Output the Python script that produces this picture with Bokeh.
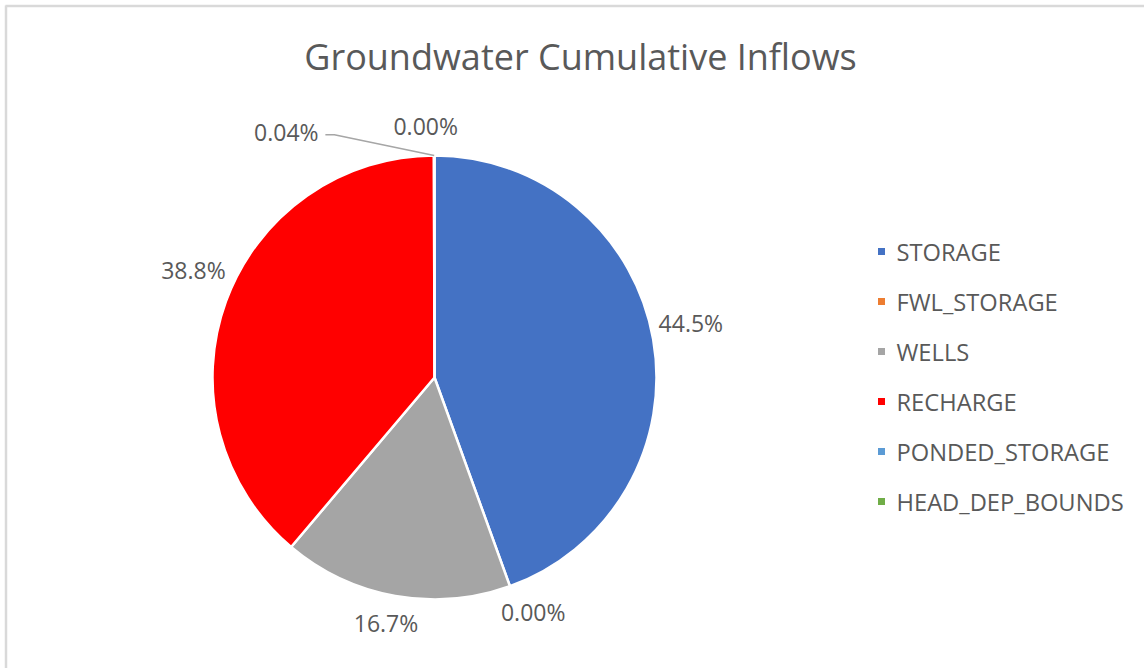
import math

from bokeh.core.properties import value
from bokeh.embed import file_html
from bokeh.models import ColumnDataSource, Range1d
from bokeh.plotting import figure
from bokeh.resources import INLINE

# Cumulative groundwater inflow components (percent of total)
components = ["STORAGE", "FWL_STORAGE", "WELLS", "RECHARGE", "PONDED_STORAGE", "HEAD_DEP_BOUNDS"]
shares = [44.5, 0.00, 16.7, 38.8, 0.04, 0.00]
label_text = ["44.5%", "0.00%", "16.7%", "38.8%", "0.04%", "0.00%"]
colors = ["#4472C4", "#ED7D31", "#A5A5A5", "#FF0000", "#5B9BD5", "#70AD47"]

W, H = 1144, 668
FONT = "Open Sans"
TEXT_COLOR = "#595959"

# pie geometry in screen pixels (y measured downward, converted below)
CX, CY, R = 434, 377, 222


def fy(y):
    return H - y


p = figure(width=W, height=H, output_backend="svg", toolbar_location=None,
           x_axis_type=None, y_axis_type=None, min_border=0,
           x_range=Range1d(0, W), y_range=Range1d(0, H))
p.outline_line_color = None
p.grid.visible = False
p.background_fill_color = "white"
p.border_fill_color = "white"

# chart frame
p.line([5, W + 5], [fy(5.5), fy(5.5)], line_color="#d9d9d9", line_width=2.5)
p.line([5.5, 5.5], [fy(5), fy(H + 5)], line_color="#d9d9d9", line_width=2.5)

# slices, clockwise from twelve o'clock
total = sum(shares)
starts, ends, mids = [], [], []
acc = 0.0
for s in shares:
    a0 = math.pi / 2 - 2 * math.pi * acc / total
    acc += s
    a1 = math.pi / 2 - 2 * math.pi * acc / total
    starts.append(a0)
    ends.append(a1)
    mids.append((a0 + a1) / 2)

# empty slices would render as full discs, so only non-zero ones are drawn
keep = [k for k, s in enumerate(shares) if s > 0]
src = ColumnDataSource(dict(start=[starts[k] for k in keep],
                            end=[ends[k] for k in keep],
                            color=[colors[k] for k in keep]))
p.wedge(x=CX, y=fy(CY), radius=R, start_angle="start", end_angle="end",
        direction="clock", fill_color="color", line_color="white",
        line_width=2.5, source=src)

# data labels placed outside the pie along each slice's mid angle
label_radius = [262, 254, 250, 264, 287, 252]
angle_shift = [2, 3, -1, -4, 31, 2]  # degrees, counter-clockwise
lx, ly = [], []
for m, r, d in zip(mids, label_radius, angle_shift):
    a = m + math.radians(d)
    lx.append(CX + r * math.cos(a))
    ly.append(fy(CY) + r * math.sin(a))
p.text(x=lx, y=ly, text=label_text, text_font=value(FONT), text_font_size="23px",
       text_color=TEXT_COLOR, text_align="center", text_baseline="middle")

# leader line for the small ponded-storage slice
i = components.index("PONDED_STORAGE")
ex = CX + R * math.cos(mids[i])
ey = fy(CY) + R * math.sin(mids[i])
p.line([lx[i] + 39, lx[i] + 48, ex], [ly[i] - 3, ly[i] - 3, ey],
       line_color="#a6a6a6", line_width=1.5)

# title
p.text(x=[580], y=[fy(56)], text=["Groundwater Cumulative Inflows"],
       text_font=value(FONT), text_font_size="36px", text_color=TEXT_COLOR,
       text_align="center", text_baseline="middle")

# legend
leg_y = [fy(251 + 50 * k) for k in range(len(components))]
p.scatter(x=[881] * len(components), y=leg_y, marker="square", size=7,
          fill_color=colors, line_color=None)
p.text(x=[896] * len(components), y=leg_y, text=components,
       text_font=value(FONT), text_font_size="23.7px", text_color=TEXT_COLOR,
       text_align="left", text_baseline="middle")

open("out.html", "w").write(file_html(p, INLINE))
